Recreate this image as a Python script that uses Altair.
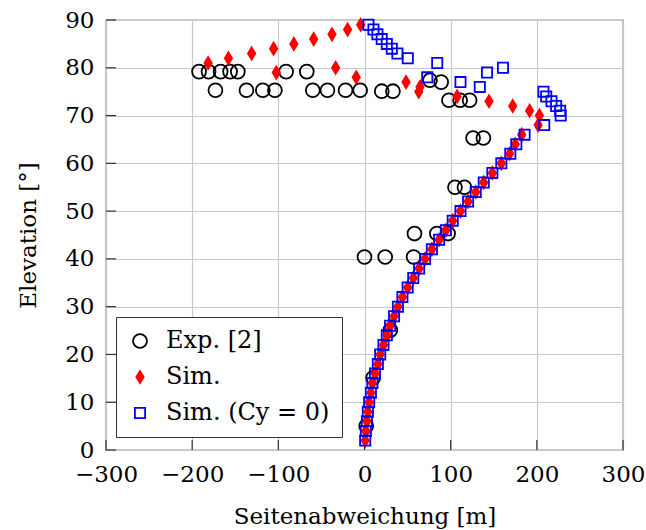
import altair as alt
import pandas as pd

# ---- data ----
series_names = ["Exp. [2]", "Sim.", "Sim. (Cy = 0)"]

exp_x = [-192, -181, -167, -156, -147, -91, -67,
         -173, -137, -118, -104, -60, -43, -22, -5, 20, 33,
         76, 89, 98, 111, 122, 126, 138, 105, 116,
         58, 84, 97, 0, 24, 57, 30, 10, 2]
exp_y = [79.2, 79.2, 79.2, 79.2, 79.2, 79.2, 79.2,
         75.3, 75.3, 75.3, 75.3, 75.3, 75.3, 75.3, 75.3, 75.1, 75.1,
         77.4, 77.0, 73.2, 73.2, 73.2, 65.3, 65.3, 55.0, 55.0,
         45.3, 45.3, 45.3, 40.4, 40.4, 40.4, 25.1, 15.1, 5.0]

sim_x = [0.8, 1.6, 2.8, 3.9, 5.4, 7.4, 9.2, 12.2, 15.5, 18.2, 22.0, 25.9, 29.7,
         34.3, 38.8, 44.0, 50.1, 56.6, 63.4, 70.3, 78.2, 86.6, 94.4, 102.4, 111.4,
         120.2, 129.1, 138.4, 148.4, 158.8, 168.5, 175.0, 182.5,
         201.5, 203.0, 191.6, 172.0, 144.5, 107.5, 63.0, 64.4, 48.2, -9.6,
         -102.4, -33.5, -181.5, -157.9, -131.0, -105.5, -82.0, -59.0, -37.7,
         -19.6, -4.5]
sim_y = [2, 4, 6, 8, 10, 12, 14, 16, 18, 20, 22, 24, 26,
         28, 30, 32, 34, 36, 38, 40, 42, 44, 46, 48, 50,
         52, 54, 56, 58, 60, 62, 64, 66,
         68, 70, 71, 72, 73, 74, 75, 76, 77, 78,
         79, 80, 81, 82, 83, 84, 85, 86, 87,
         88, 89]

sim0_x = [0.8, 1.6, 2.8, 3.9, 5.4, 7.4, 9.2, 12.2, 15.5, 18.2, 22.0, 25.9, 29.7,
          34.3, 38.8, 44.0, 50.1, 56.6, 63.4, 70.3, 78.2, 86.6, 94.4, 102.4, 111.4,
          120.2, 129.1, 138.4, 148.4, 158.8, 169.2, 176.2, 185.8,
          208.6, 227.7, 227.0, 222.4, 217.0, 210.9, 207.7, 133.8, 111.4, 72.8,
          142.2, 160.7, 84.4, 50.2, 38.2, 31.7, 25.9, 20.0, 15.0, 10.4, 4.6]
sim0_y = [2, 4, 6, 8, 10, 12, 14, 16, 18, 20, 22, 24, 26,
          28, 30, 32, 34, 36, 38, 40, 42, 44, 46, 48, 50,
          52, 54, 56, 58, 60, 62, 64, 66,
          68, 70, 71, 72, 73, 74, 75, 76, 77, 78,
          79, 80, 81, 82, 83, 84, 85, 86, 87, 88, 89]

x_ticks = [-300, -200, -100, 0, 100, 200, 300]
y_ticks = [0, 10, 20, 30, 40, 50, 60, 70, 80, 90]

# ---- table ----
rows = []
for name, xs, ys in [(series_names[0], exp_x, exp_y),
                     (series_names[1], sim_x, sim_y),
                     (series_names[2], sim0_x, sim0_y)]:
    for a, b in zip(xs, ys):
        rows.append({"x": a, "y": b, "series": name})
df = pd.DataFrame(rows)

W, H = 517, 430
FONT = "DejaVu Serif"
FRAME = "#333333"
DIAMOND = "M0,-1L0.6,0L0,1L-0.6,0Z"

xscale = alt.Scale(domain=[-300, 300], nice=False, zero=False)
yscale = alt.Scale(domain=[0, 90], nice=False, zero=False)
xaxis = alt.Axis(title="Seitenabweichung [m]", values=x_ticks, ticks=False,
                 domain=False, grid=True, labelPadding=13, labelFlush=False,
                 labelOverlap=False, titleY=73, titleBaseline="alphabetic")
yaxis = alt.Axis(title="Elevation [°]", values=y_ticks, ticks=False,
                 domain=False, grid=True, labelPadding=12, labelFlush=False,
                 labelOverlap=False, titleX=-71, titleY=H / 2,
                 titleBaseline="alphabetic", titleAlign="center", titleAngle=-90)

legend = alt.Legend(orient="none", legendX=10, legendY=297, title=None,
                    padding=12, strokeColor=FRAME, fillColor="white",
                    labelFont=FONT, labelFontSize=24, labelColor="black",
                    labelOffset=14, rowPadding=12, symbolStrokeWidth=1.8,
                    cornerRadius=0, labelLimit=400)

points = alt.Chart(df).mark_point(filled=True, strokeWidth=1.8, opacity=1).encode(
    x=alt.X("x:Q", scale=xscale, axis=xaxis),
    y=alt.Y("y:Q", scale=yscale, axis=yaxis),
    stroke=alt.Stroke("series:N", scale=alt.Scale(domain=series_names,
                      range=["#000000", "#ff0000", "#0000ff"]), legend=legend),
    fill=alt.Fill("series:N", scale=alt.Scale(domain=series_names,
                  range=["transparent", "#ff0000", "transparent"]), legend=legend),
    shape=alt.Shape("series:N", scale=alt.Scale(domain=series_names,
                    range=["circle", DIAMOND, "square"]), legend=legend),
    size=alt.Size("series:N", scale=alt.Scale(domain=series_names,
                  range=[193, 104, 98]), legend=legend),
)

xtick_df = pd.DataFrame({"x": x_ticks})
ytick_df = pd.DataFrame({"y": y_ticks})

xt = alt.Chart(xtick_df).mark_rule(color=FRAME, strokeWidth=1.2).encode(
    x=alt.X("x:Q", scale=xscale, axis=xaxis),
    y=alt.value(H - 10), y2=alt.value(H))
yt = alt.Chart(ytick_df).mark_rule(color=FRAME, strokeWidth=1.2).encode(
    y=alt.Y("y:Q", scale=yscale, axis=yaxis),
    x=alt.value(0), x2=alt.value(10))

chart = alt.layer(xt, yt, points).properties(
    width=W, height=H,
    autosize=alt.AutoSizeParams(type="none"),
    padding={"left": 106, "top": 20, "right": 23, "bottom": 80},
).configure_view(
    stroke=FRAME, strokeWidth=1.2
).configure_axis(
    labelFont=FONT, labelFontSize=23, labelColor="black",
    titleFont=FONT, titleFontSize=23, titleColor="black", titleFontWeight="normal",
    gridColor="#c8c8c8", gridWidth=1.2,
)

chart.save("out.html", embed_options={"renderer": "svg", "actions": False})
